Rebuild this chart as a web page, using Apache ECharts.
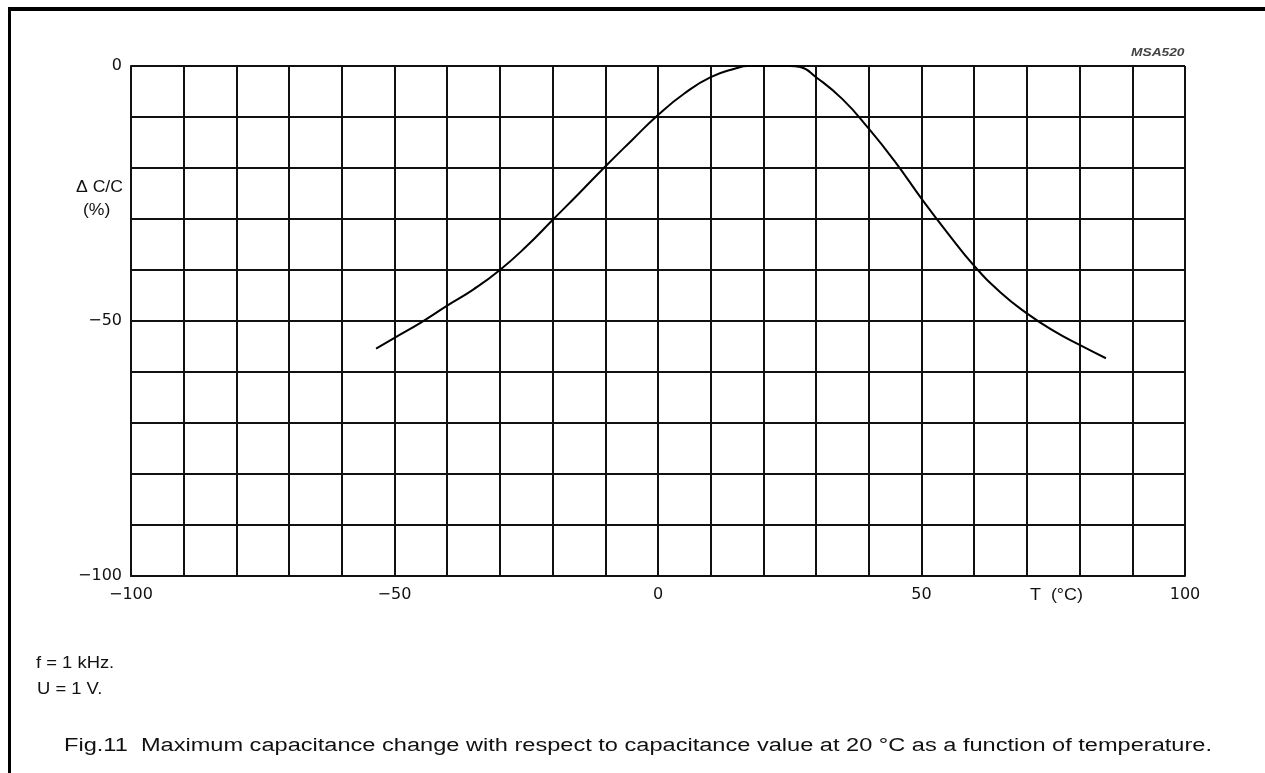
<!DOCTYPE html>
<html><head><meta charset="utf-8">
<script src="https://cdn.jsdelivr.net/npm/echarts@6/dist/echarts.min.js"></script>
<style>html,body{margin:0;padding:0;background:#fff}#c{width:1265px;height:773px}</style>
</head><body><div id="c"></div>
<script>
// Temperature (°C) and capacitance change (%)
const temps  = [-53.5, -50, -45, -40, -35, -30, -25, -20, -15, -10, -5, 0, 5, 10, 15, 17, 20, 25, 27, 30, 35, 40, 45, 50, 55, 60, 65, 70, 75, 80, 85];
const values = [-55.4, -53.3, -50.3, -47.0, -43.8, -40.0, -35.4, -30.2, -25.0, -19.7, -14.6, -9.6, -5.4, -2.2, -0.4, 0, 0, 0, -0.2, -2.2, -6.5, -12.3, -18.8, -26.0, -32.8, -39.2, -44.4, -48.5, -51.9, -54.7, -57.3];
const xTickLabels = [-100, -50, 0, 50, 100];
const yTickLabels = [0, -50, -100];

const fmt = v => String(v).replace('-', '\u2212');
const chart = echarts.init(document.getElementById('c'), null, {renderer: 'canvas'});
const lineStyle = {color: '#111', width: 2};
const labelFont = {color: '#111', fontSize: 16, fontFamily: 'DejaVu Sans, sans-serif'};
const txt = (x, y, text, size, sx, extra) => Object.assign({
  type: 'text', x, y, scaleX: sx,
  style: Object.assign({text, font: size + 'px "Liberation Sans", Arial, sans-serif', fill: '#111', align: 'left', verticalAlign: 'top'}, extra || {})
});
chart.setOption({
  animation: false,
  backgroundColor: '#fff',
  grid: {left: 131, top: 66, right: 80, bottom: 197, containLabel: false},
  xAxis: {
    type: 'value', min: -100, max: 100, interval: 10,
    axisLine: {show: true, onZero: false, lineStyle},
    axisTick: {show: false},
    splitLine: {show: true, lineStyle},
    axisLabel: Object.assign({margin: 11, formatter: v => xTickLabels.includes(v) ? fmt(v) : ''}, labelFont)
  },
  yAxis: {
    type: 'value', min: -100, max: 0, interval: 10,
    axisLine: {show: true, onZero: false, lineStyle},
    axisTick: {show: false},
    splitLine: {show: true, lineStyle},
    axisLabel: Object.assign({margin: 9, formatter: v => yTickLabels.includes(v) ? fmt(v) : ''}, labelFont)
  },
  series: [{
    type: 'line', smooth: 0.5, symbol: 'none', clip: true,
    data: temps.map((t, i) => [t, values[i]]),
    lineStyle: {color: '#000', width: 2}
  }],
  graphic: [
    {type: 'rect', shape: {x: 8, y: 7, width: 1257, height: 4}, style: {fill: '#000'}},
    {type: 'rect', shape: {x: 8, y: 7, width: 3, height: 766}, style: {fill: '#000'}},
    txt(1131, 47, 'MSA520', 11, 1.25, {font: 'italic bold 11px "Liberation Sans", Arial, sans-serif', fill: '#444'}),
    txt(76, 180, '\u0394 C/C', 16, 1.1),
    txt(83, 203, '(%)', 16, 1.1),
    txt(1030, 588, 'T  (\u00B0C)', 16, 1.12),
    txt(36, 656, 'f = 1 kHz.', 16, 1.15),
    txt(37, 682, 'U = 1 V.', 16, 1.15),
    txt(64, 737, 'Fig.11  Maximum capacitance change with respect to capacitance value at 20 \u00B0C as a function of temperature.', 18, 1.31)
  ]
});
</script></body></html>
